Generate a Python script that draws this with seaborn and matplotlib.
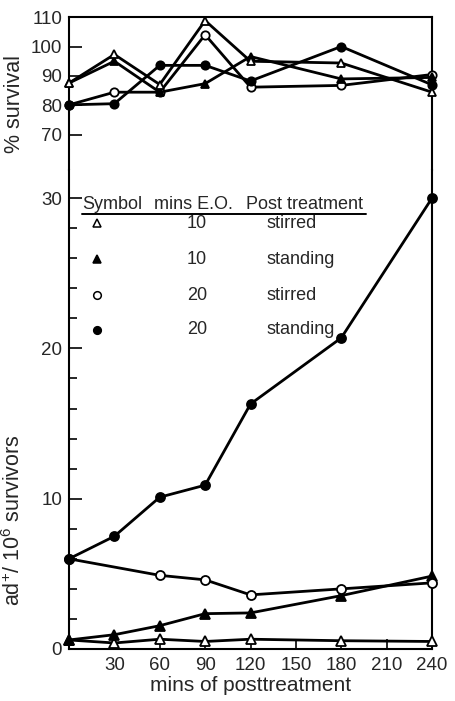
import matplotlib
matplotlib.use("Agg")
import matplotlib.pyplot as plt
import seaborn as sns
import numpy as np

sns.set_style("ticks")
plt.rcParams["font.family"] = ["Liberation Sans", "DejaVu Sans"]
plt.rcParams["mathtext.default"] = "regular"

# Sampling times (minutes of post-treatment)
minutes = [0, 30, 60, 90, 120, 180, 240]
minutes_open_circ = [0, 60, 90, 120, 180, 240]

# % survival
surv_10_stirred = [87.6, 97.3, 87.1, 108.8, 95.0, 94.4, 84.5]
surv_10_standing = [87.6, 95.0, 84.5, 87.4, 96.6, 89.0, 89.5]
surv_20_stirred = [80.2, 84.5, 84.5, 104.0, 86.2, 86.8, 90.5]
surv_20_standing = [80.2, 80.6, 93.6, 93.6, 88.3, 100.0, 87.0]

# ad+ per 10^6 survivors
ad_10_stirred = [0.6, 0.4, 0.65, 0.5, 0.65, 0.55, 0.5]
ad_10_standing = [0.6, 0.95, 1.55, 2.35, 2.4, 3.55, 4.85]
ad_20_stirred = [6.0, 4.9, 4.6, 3.6, 4.0, 4.4]
ad_20_standing = [6.0, 7.5, 10.1, 10.9, 16.3, 20.7, 30.0]

x_ticks = [30, 60, 90, 120, 150, 180, 210, 240]
surv_ticks = [70, 80, 90, 100, 110]
ad_ticks = [0, 10, 20, 30]

legend_rows = [
    ("^", "white", "10", "stirred"),
    ("^", "black", "10", "standing"),
    ("o", "white", "20", "stirred"),
    ("o", "black", "20", "standing"),
]

fig = plt.figure(figsize=(4.56, 7.01), dpi=100)
ax_top = fig.add_axes([0.1513, 0.7575, 0.7961, 0.2182])
ax_bot = fig.add_axes([0.1513, 0.0742, 0.7961, 0.6833])

line_kw = dict(color="black", linewidth=2.0, markeredgewidth=1.3,
               markeredgecolor="black")

series_top = [
    (minutes, surv_20_stirred, "o", "white"),
    (minutes, surv_10_standing, "^", "black"),
    (minutes, surv_10_stirred, "^", "white"),
    (minutes, surv_20_standing, "o", "black"),
]
for xs, ys, mk, fc in series_top:
    sns.lineplot(x=xs, y=ys, ax=ax_top, marker=mk, markerfacecolor=fc,
                 markersize=6, clip_on=False, zorder=3, **line_kw)

series_bot = [
    (minutes, ad_10_stirred, "^", "white"),
    (minutes, ad_10_standing, "^", "black"),
    (minutes_open_circ, ad_20_stirred, "o", "white"),
    (minutes, ad_20_standing, "o", "black"),
]
for xs, ys, mk, fc in series_bot:
    sns.lineplot(x=xs, y=ys, ax=ax_bot, marker=mk, markerfacecolor=fc,
                 markersize=6.5, clip_on=False, zorder=3, **line_kw)

for ax in (ax_top, ax_bot):
    ax.set_xlim(0, 240)
    for s in ax.spines.values():
        s.set_linewidth(1.5)
        s.set_color("black")

# Upper survival section
ax_top.set_ylim(58.1, 110)
ax_top.spines["bottom"].set_visible(False)
ax_top.set_xticks([])
ax_top.set_yticks(surv_ticks)
ax_top.tick_params(axis="y", direction="in", length=9, width=1.4,
                   labelsize=13.5, pad=5)
ax_top.set_ylabel("% survival", fontsize=15.5)
ax_top.yaxis.set_label_coords(-0.121, 0.43)

# Lower mutant-frequency section
ax_bot.set_ylim(0, 31.87)
ax_bot.spines["top"].set_visible(False)
ax_bot.set_yticks(ad_ticks)
ax_bot.set_yticks([v for v in range(2, 31, 2) if v % 10], minor=True)
ax_bot.tick_params(axis="y", which="major", direction="in", length=9,
                   width=1.4, labelsize=13.5, pad=5)
ax_bot.tick_params(axis="y", which="minor", direction="in", length=6,
                   width=1.4)
ax_bot.set_xticks(x_ticks)
ax_bot.tick_params(axis="x", direction="in", length=7, width=1.4,
                   labelsize=13.5, pad=6)
ax_bot.set_xlabel("mins of posttreatment", fontsize=15, labelpad=1)
ax_bot.set_ylabel(r"ad$^{+}$/ 10$^{6}$ survivors", fontsize=15.5)
ax_bot.yaxis.set_label_coords(-0.121, 0.27)

# Key drawn inside the lower section
tr = ax_bot.transAxes
hdr_y = 0.927
ax_bot.text(0.036, hdr_y, "Symbol", transform=tr, fontsize=13, va="center")
ax_bot.text(0.342, hdr_y, "mins E.O.", transform=tr, fontsize=13,
            va="center", ha="center")
ax_bot.text(0.488, hdr_y, "Post treatment", transform=tr, fontsize=13,
            va="center")
ax_bot.plot([0.036, 0.818], [0.908, 0.908], transform=tr, color="black",
            linewidth=1.4, clip_on=False)
row_y = [0.889, 0.814, 0.739, 0.666]
for (mk, fc, mins, post), yy in zip(legend_rows, row_y):
    ax_bot.plot([0.077], [yy], transform=tr, marker=mk, markersize=5.5,
                markerfacecolor=fc, markeredgecolor="black",
                markeredgewidth=1.1, linestyle="none")
    ax_bot.text(0.353, yy, mins, transform=tr, fontsize=13, va="center",
                ha="center")
    ax_bot.text(0.543, yy, post, transform=tr, fontsize=13, va="center")

fig.savefig("out.png", dpi=100)
